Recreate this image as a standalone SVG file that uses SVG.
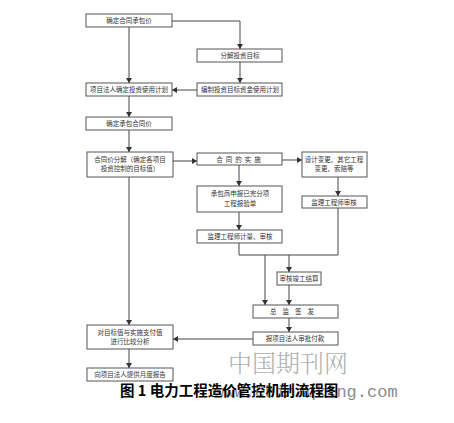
<svg xmlns="http://www.w3.org/2000/svg" width="454" height="423" viewBox="0 0 454 423">
<defs>
<marker id="ah" markerWidth="6" markerHeight="6" refX="5" refY="3" orient="auto" markerUnits="userSpaceOnUse">
<path d="M0,0 L5,3 L0,6 z" fill="#333"/>
</marker>
<style>
.b{fill:#fff;stroke:#555;stroke-width:1}
.t{font-family:"Noto Sans CJK SC","Noto Sans",sans-serif;font-size:6.5px;fill:#333;text-anchor:middle}
.c{fill:none;stroke:#444;stroke-width:1}
.a{marker-end:url(#ah)}
</style>
</defs>
<rect width="454" height="423" fill="#fff"/>
<g id="watermark">
<text x="228" y="372" font-family="'Noto Serif CJK SC','Liberation Serif',serif" font-size="24" fill="#b0b0b0" font-weight="300">中国期刊网</text>
<text x="214" y="397" font-family="'Liberation Mono',monospace" font-size="17" fill="#8a8a8a">www.chinaqking.com</text>
</g>
<g id="connectors">
<path class="c a" d="M172,21 H240 V49"/>
<path class="c a" d="M240,62 V83"/>
<path class="c a" d="M197,90 H172"/>
<path class="c a" d="M129,27 V83"/>
<path class="c a" d="M129,96 V117"/>
<path class="c a" d="M129,130 V152"/>
<path class="c a" d="M172,161 H197"/>
<path class="c a" d="M282,160 H302"/>
<path class="c a" d="M239,165 V186"/>
<path class="c a" d="M239,212 V230"/>
<path class="c a" d="M338,177 V196"/>
<path class="c" d="M239,243 V255 H338 V208"/>
<path class="c a" d="M265,255 V305"/>
<path class="c a" d="M289,255 V272"/>
<path class="c a" d="M289,285 V305"/>
<path class="c a" d="M289,318 V332"/>
<path class="c a" d="M253,339 H173"/>
<path class="c a" d="M129,177 V325"/>
<path class="c a" d="M129,349 V368"/>
</g>
<g id="n1"><rect class="b" x="86" y="14" width="86" height="13"/><text class="t" x="129" y="23">确定合同承包价</text></g>
<g id="n2"><rect class="b" x="197" y="49" width="85" height="13"/><text class="t" x="240" y="58">分解投资目标</text></g>
<g id="n3"><rect class="b" x="197" y="83" width="85" height="13"/><text class="t" x="240" y="92">编制投资目标资金使用计划</text></g>
<g id="n4"><rect class="b" x="86" y="83" width="86" height="13"/><text class="t" x="129" y="92">项目法人确定投资使用计划</text></g>
<g id="n5"><rect class="b" x="86" y="117" width="86" height="13"/><text class="t" x="129" y="126">确定承包合同价</text></g>
<g id="n6"><rect class="b" x="87" y="152" width="86" height="25"/><text class="t" x="130" y="162">合同价分解（确定各项目</text><text class="t" x="130" y="171">投资控制的目标值）</text></g>
<g id="n7"><rect class="b" x="197" y="153" width="85" height="12"/><text class="t" x="240" y="162" letter-spacing="3">合同的实施</text></g>
<g id="n8"><rect class="b" x="302" y="152" width="65" height="25"/><text class="t" x="334" y="162">设计变更、其它工程</text><text class="t" x="334" y="171">变更、索赔等</text></g>
<g id="n9"><rect class="b" x="197" y="186" width="85" height="26"/><text class="t" x="240" y="196">承包商申报已完分项</text><text class="t" x="240" y="206">工程报验单</text></g>
<g id="n10"><rect class="b" x="197" y="230" width="85" height="13"/><text class="t" x="240" y="239">监理工程师计量、审核</text></g>
<g id="n11"><rect class="b" x="302" y="196" width="65" height="12"/><text class="t" x="334" y="205">监理工程师审核</text></g>
<g id="n12"><rect class="b" x="277" y="272" width="44" height="13"/><text class="t" x="299" y="281">审核竣工结算</text></g>
<g id="n13"><rect class="b" x="253" y="305" width="85" height="13"/><text class="t" x="295" y="314" letter-spacing="6">总监签发</text></g>
<g id="n14"><rect class="b" x="253" y="332" width="85" height="13"/><text class="t" x="295" y="341">报项目法人审批付款</text></g>
<g id="n15"><rect class="b" x="87" y="325" width="86" height="24"/><text class="t" x="130" y="335">对目标值与实施支付值</text><text class="t" x="130" y="344">进行比较分析</text></g>
<g id="n16"><rect class="b" x="87" y="368" width="86" height="13"/><text class="t" x="130" y="377">向项目法人提供月度报告</text></g>
<text x="120" y="396" font-family="'Noto Sans CJK SC','Noto Sans',sans-serif" font-size="14.5" font-weight="bold" fill="#000">图 1 电力工程造价管控机制流程图</text>
</svg>
